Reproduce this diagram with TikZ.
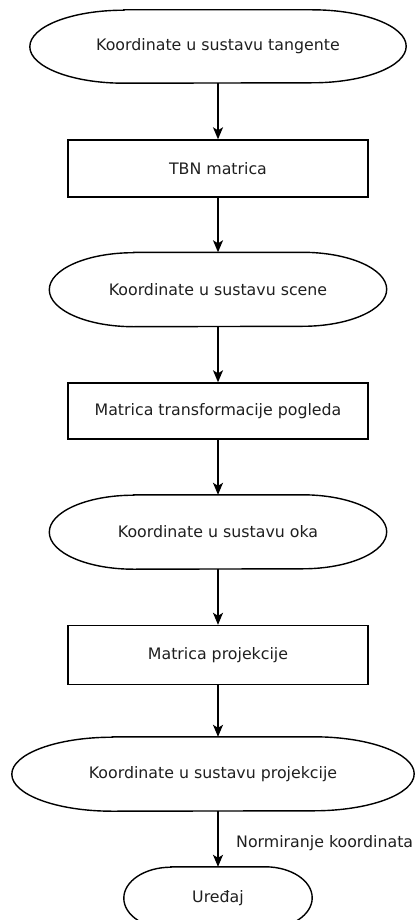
\documentclass[tikz,border=0pt]{standalone}
\usepackage{fontspec}
\setmainfont{DejaVu Sans}
\usetikzlibrary{calc,arrows.meta}
\tikzset{
  outline/.style={draw=black, line width=1.4pt},
  arr/.style={draw=black, line width=1.4pt, -{Stealth[length=12pt,width=10pt,inset=3pt]}},
  lbl/.style={font=\fontsize{15.8}{19}\selectfont, text=black!88},
  boxnode/.style={lbl, outline, inner sep=0pt, rectangle},
}
% name, cx, cy, w, h, text
\newcommand\termnode[6]{%
  \node[lbl, inner sep=0pt, minimum width=#4pt, minimum height=#5pt] (#1) at (#2,#3) {#6};
  \draw[outline] ($(#1.north west)+(#4pt/4,0)$) -- ($(#1.north east)-(#4pt/4,0)$)
    arc[start angle=90, end angle=-90, x radius=#4pt/4, y radius=#5pt/2]
    -- ($(#1.south west)+(#4pt/4,0)$)
    arc[start angle=270, end angle=90, x radius=#4pt/4, y radius=#5pt/2] -- cycle;
}
\begin{document}
\begin{tikzpicture}[x=1pt, y=-1pt]
\clip (0,0) rectangle (415,920);
\useasboundingbox (0,0) rectangle (415,920);
\termnode{t1}{218}{46.5}{376}{73}{Koordinate u sustavu tangente}
\node[boxnode, minimum width=300pt, minimum height=57pt] (r2) at (218,168.5) {TBN matrica};
\termnode{t3}{218}{289.5}{337}{74}{Koordinate u sustavu scene}
\node[boxnode, minimum width=300pt, minimum height=56pt] (r4) at (218,411) {Matrica transformacije pogleda};
\termnode{t5}{218}{532}{337}{74}{Koordinate u sustavu oka}
\node[boxnode, minimum width=300pt, minimum height=59pt] (r6) at (218,655) {Matrica projekcije};
\termnode{t7}{213}{774}{402}{74}{Koordinate u sustavu projekcije}
\termnode{t8}{218}{898}{188}{62}{Uređaj}
\node[lbl, anchor=west, inner sep=0pt] (norm) at (236,843) {Normiranje koordinata};

\draw[arr] (t1.south) -- (r2.north);
\draw[arr] (r2.south) -- (t3.north);
\draw[arr] (t3.south) -- (r4.north);
\draw[arr] (r4.south) -- (t5.north);
\draw[arr] (t5.south) -- (r6.north);
\draw[arr] (r6.south) -- (r6.south |- t7.north);
\draw[arr] (t8.north |- t7.south) -- (t8.north);
\end{tikzpicture}
\end{document}
